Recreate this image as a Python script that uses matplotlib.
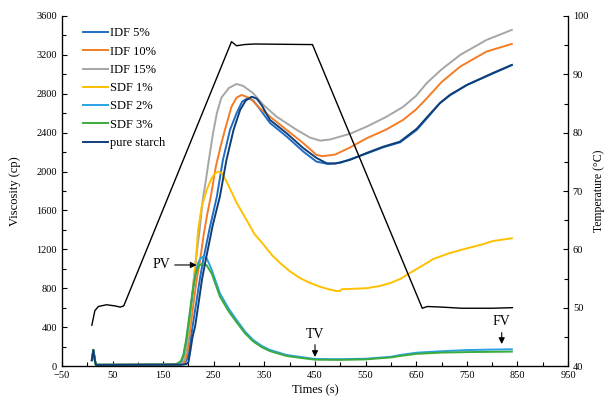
import numpy as np
import matplotlib
matplotlib.use("Agg")
import matplotlib.pyplot as plt

plt.rcParams['font.family'] = ['Liberation Serif', 'DejaVu Serif']

# valeurs : temps (s) / viscosite (cp)
start_t = [9, 12, 15, 17, 40, 100, 160, 175]
start_v = [60, 165, 60, 12, 12, 13, 14, 15]

idf5_t = [185, 192, 198, 203, 208, 215, 222, 229, 242, 256, 268, 282, 295, 306, 318, 328, 340, 361, 394, 427, 453, 476, 500, 552, 585, 618, 651, 675, 697, 717, 750, 800, 839]
idf5_v = [16, 25, 80, 220, 405, 640, 880, 1090, 1420, 1742, 2119, 2428, 2600, 2720, 2757, 2730, 2650, 2500, 2360, 2205, 2102, 2078, 2090, 2185, 2250, 2300, 2428, 2570, 2705, 2785, 2890, 3005, 3095]

idf10_t = [185, 192, 198, 204, 210, 216, 223, 230, 237, 244, 254, 263, 272, 285, 295, 305, 322, 341, 361, 394, 427, 453, 465, 490, 520, 552, 590, 624, 650, 671, 700, 737, 789, 839]
idf10_v = [16, 40, 140, 405, 650, 880, 1090, 1350, 1560, 1742, 2050, 2250, 2428, 2668, 2760, 2788, 2754, 2651, 2565, 2428, 2291, 2171, 2158, 2175, 2250, 2342, 2430, 2531, 2640, 2754, 2920, 3080, 3234, 3313]

idf15_t = [180, 185, 192, 198, 204, 210, 216, 222, 228, 234, 240, 248, 256, 265, 280, 295, 308, 328, 348, 374, 414, 440, 460, 480, 520, 552, 590, 624, 650, 671, 700, 737, 789, 839]
idf15_v = [15, 20, 70, 250, 550, 880, 1150, 1400, 1700, 1900, 2110, 2380, 2600, 2760, 2860, 2901, 2881, 2805, 2685, 2565, 2428, 2350, 2318, 2330, 2390, 2462, 2560, 2665, 2780, 2911, 3050, 3200, 3354, 3457]

sdf1_t = [180, 190, 196, 201, 206, 211, 215, 219, 226, 236, 245, 252, 259, 266, 275, 285, 295, 315, 330, 348, 365, 381, 400, 420, 440, 460, 480, 492, 500, 503, 520, 552, 578, 600, 620, 631, 655, 684, 715, 750, 780, 802, 839]
sdf1_v = [20, 80, 250, 405, 640, 900, 1120, 1400, 1639, 1811, 1925, 1980, 2000, 1985, 1900, 1790, 1680, 1500, 1360, 1250, 1140, 1060, 975, 905, 855, 815, 785, 772, 772, 790, 793, 800, 823, 855, 900, 936, 1010, 1101, 1160, 1210, 1250, 1286, 1314]

sdf2_t = [185, 190, 195, 200, 205, 210, 215, 219, 224, 229, 236, 246, 262, 279, 295, 312, 328, 345, 361, 394, 427, 450, 500, 550, 600, 618, 651, 700, 750, 800, 839]
sdf2_v = [40, 100, 230, 420, 620, 820, 980, 1060, 1110, 1125, 1108, 988, 748, 593, 473, 353, 267, 206, 165, 113, 89, 72, 70, 75, 95, 113, 137, 152, 164, 169, 172]

sdf3_t = [185, 190, 195, 200, 205, 210, 215, 220, 226, 236, 246, 262, 279, 295, 312, 328, 345, 361, 394, 427, 450, 500, 550, 600, 618, 651, 700, 750, 800, 839]
sdf3_v = [50, 120, 260, 450, 650, 830, 960, 1030, 1049, 1035, 950, 715, 565, 450, 335, 252, 193, 153, 103, 80, 65, 63, 68, 88, 103, 125, 138, 143, 146, 148]

pure_t = [185, 196, 200, 203, 208, 213, 220, 227, 234, 248, 262, 275, 289, 302, 313, 325, 335, 345, 361, 394, 427, 453, 473, 490, 519, 552, 585, 618, 651, 675, 697, 717, 750, 800, 839]
pure_v = [12, 20, 44, 133, 300, 405, 650, 900, 1090, 1450, 1742, 2119, 2428, 2634, 2730, 2770, 2750, 2680, 2531, 2394, 2240, 2140, 2085, 2082, 2120, 2191, 2256, 2308, 2440, 2580, 2705, 2790, 2890, 3010, 3097]

# temperature (deg C)
temp_t = [9, 15, 22, 38, 55, 65, 72, 285, 295, 310, 330, 445, 662, 672, 700, 740, 800, 840]
temp_v = [47.0, 49.5, 50.2, 50.5, 50.3, 50.1, 50.3, 95.6, 94.9, 95.1, 95.2, 95.1, 49.9, 50.2, 50.1, 49.9, 49.9, 50.0]

series = [
    ("IDF 5%", idf5_t, idf5_v, "#1f6dc2"),
    ("IDF 10%", idf10_t, idf10_v, "#f57c25"),
    ("IDF 15%", idf15_t, idf15_v, "#a6a6a6"),
    ("SDF 1%", sdf1_t, sdf1_v, "#ffc000"),
    ("SDF 2%", sdf2_t, sdf2_v, "#2aa1e3"),
    ("SDF 3%", sdf3_t, sdf3_v, "#3bab3b"),
    ("pure starch", pure_t, pure_v, "#0f3e78"),
]

fig = plt.figure(figsize=(6.06, 4.03), dpi=100)
ax = fig.add_axes([0.1023, 0.0918, 0.835, 0.8685])

for name, t, v, c in series:
    ax.plot(start_t + t, start_v + v, color=c, lw=1.4, label=name)

ax.set_xlim(-50, 950)
ax.set_ylim(0, 3600)
ax.set_xticks(np.arange(-50, 951, 100))
ax.set_xticks(np.arange(0, 951, 100), minor=True)
ax.set_yticks(np.arange(0, 3601, 400))
ax.set_yticks(np.arange(200, 3600, 400), minor=True)
ax.set_xticklabels([str(int(x)).replace("-", "\u2212") for x in np.arange(-50, 951, 100)])
ax.tick_params(which='both', direction='in', labelsize=7.5, width=0.8)
ax.tick_params(which='major', length=3.5)
ax.tick_params(which='minor', length=3)
ax.spines['top'].set_visible(False)
for s in ['left', 'bottom', 'right']:
    ax.spines[s].set_linewidth(0.9)
ax.set_xlabel("Times (s)", fontsize=9, labelpad=3)
ax.set_ylabel("Viscosity (cp)", fontsize=9)
ax.yaxis.set_label_coords(-0.081, 0.5)

ax.legend(loc='upper left', bbox_to_anchor=(0.03, 0.985), frameon=False,
          fontsize=9, handlelength=2.0, handletextpad=0.15, labelspacing=0.5, borderpad=0)

ax.annotate("PV", xy=(216, 1039), xytext=(147, 1039), fontsize=10, ha='center', va='center',
            arrowprops=dict(arrowstyle='-|>', color='black', lw=0.8, shrinkA=1, shrinkB=0,
                            mutation_scale=9))
ax.annotate("TV", xy=(450, 93), xytext=(450, 329), fontsize=10, ha='center', va='center',
            arrowprops=dict(arrowstyle='-|>', color='black', lw=0.8, shrinkA=1, shrinkB=0,
                            mutation_scale=9))
ax.annotate("FV", xy=(819, 226), xytext=(819, 453), fontsize=10, ha='center', va='center',
            arrowprops=dict(arrowstyle='-|>', color='black', lw=0.8, shrinkA=1, shrinkB=0,
                            mutation_scale=9))

ax2 = ax.twinx()
ax2.plot(temp_t, temp_v, color='black', lw=1.0)
ax2.set_ylim(40, 100)
ax2.set_yticks(np.arange(40, 101, 10))
ax2.set_yticks(np.arange(45, 100, 10), minor=True)
ax2.tick_params(which='both', direction='in', labelsize=7.5, width=0.8)
ax2.tick_params(which='major', length=3.5)
ax2.tick_params(which='minor', length=3)
ax2.spines['top'].set_visible(False)
ax2.set_ylabel("Temperature (\u00b0C)", fontsize=8.5)
ax2.yaxis.set_label_coords(1.05, 0.5)

fig.savefig("out.png", dpi=100)
